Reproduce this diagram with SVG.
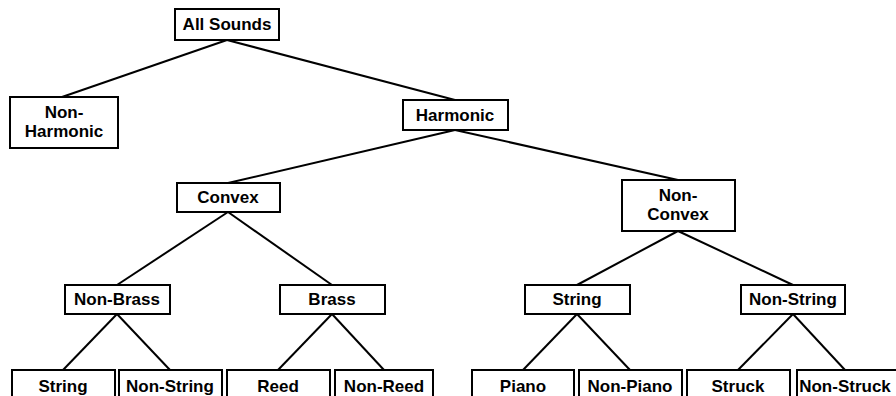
<svg xmlns="http://www.w3.org/2000/svg" width="896" height="396" viewBox="0 0 896 396">
<style>
rect{fill:#fff;stroke:#000;stroke-width:2}
text{font-family:"Liberation Sans",Arial,sans-serif;font-weight:bold;font-size:17px;text-anchor:middle;fill:#000}
#edges line{stroke:#000;stroke-width:2}
</style>
<rect x="0" y="0" width="896" height="396" style="stroke:none"/>
<g id="edges">
<line x1="227" y1="40" x2="62" y2="97"/>
<line x1="227" y1="40" x2="455" y2="100"/>
<line x1="455" y1="130" x2="228" y2="183"/>
<line x1="455" y1="130" x2="678" y2="180"/>
<line x1="228" y1="212" x2="117" y2="285"/>
<line x1="228" y1="212" x2="332" y2="285"/>
<line x1="678" y1="231" x2="577" y2="285"/>
<line x1="678" y1="231" x2="793" y2="285"/>
<line x1="117" y1="314" x2="63" y2="370"/>
<line x1="117" y1="314" x2="170" y2="370"/>
<line x1="332" y1="314" x2="278" y2="370"/>
<line x1="332" y1="314" x2="384" y2="370"/>
<line x1="577" y1="314" x2="523" y2="370"/>
<line x1="577" y1="314" x2="630" y2="370"/>
<line x1="793" y1="314" x2="738" y2="370"/>
<line x1="793" y1="314" x2="845" y2="370"/>
</g>
<g id="all-sounds"><rect x="175" y="9" width="104" height="31"/><text x="227" y="30">All Sounds</text></g>
<g id="non-harmonic"><rect x="10" y="97" width="108" height="51"/><text x="64" y="118">Non-</text><text x="64" y="137">Harmonic</text></g>
<g id="harmonic"><rect x="403" y="100" width="105" height="30"/><text x="455" y="121">Harmonic</text></g>
<g id="convex"><rect x="177" y="183" width="103" height="29"/><text x="228" y="203">Convex</text></g>
<g id="non-convex"><rect x="622" y="180" width="113" height="51"/><text x="678" y="201">Non-</text><text x="678" y="220">Convex</text></g>
<g id="non-brass"><rect x="65" y="285" width="105" height="29"/><text x="117" y="305">Non-Brass</text></g>
<g id="brass"><rect x="280" y="285" width="105" height="29"/><text x="332" y="305">Brass</text></g>
<g id="string"><rect x="525" y="285" width="105" height="29"/><text x="577" y="305">String</text></g>
<g id="non-string"><rect x="741" y="285" width="104" height="29"/><text x="793" y="305">Non-String</text></g>
<g id="string-2"><rect x="12" y="370" width="103" height="40"/><text x="63" y="392">String</text></g>
<g id="non-string-2"><rect x="119" y="370" width="103" height="40"/><text x="170" y="392">Non-String</text></g>
<g id="reed"><rect x="227" y="370" width="103" height="40"/><text x="278" y="392">Reed</text></g>
<g id="non-reed"><rect x="335" y="370" width="98" height="40"/><text x="384" y="392">Non-Reed</text></g>
<g id="piano"><rect x="472" y="370" width="102" height="40"/><text x="523" y="392">Piano</text></g>
<g id="non-piano"><rect x="579" y="370" width="103" height="40"/><text x="630" y="392">Non-Piano</text></g>
<g id="struck"><rect x="687" y="370" width="103" height="40"/><text x="738" y="392">Struck</text></g>
<g id="non-struck"><rect x="797" y="370" width="103" height="40"/><text x="845" y="392">Non-Struck</text></g>
</svg>
